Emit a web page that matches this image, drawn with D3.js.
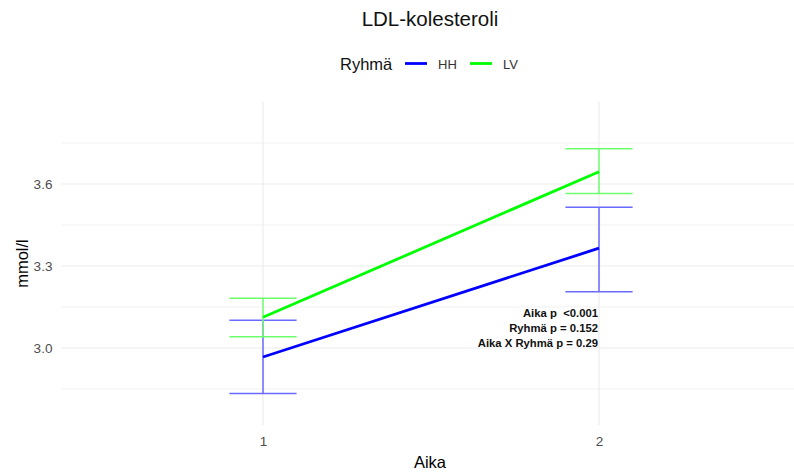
<!DOCTYPE html>
<html>
<head>
<meta charset="utf-8">
<script src="https://cdn.jsdelivr.net/npm/d3@7/dist/d3.min.js"></script>
<style>
  html, body { margin: 0; padding: 0; background: #fff; }
  svg { display: block; font-family: "Liberation Sans", Arial, sans-serif; }
</style>
</head>
<body>
<svg id="chart" width="794" height="472"></svg>
<script>
// Measurement times and groups
const aika = ["1", "2"];
const groups = ["HH", "LV"];

// Group means with confidence limits (mmol/l)
const hhMean  = [2.967, 3.365];
const hhLower = [2.833, 3.206];
const hhUpper = [3.101, 3.515];
const lvMean  = [3.112, 3.645];
const lvLower = [3.041, 3.565];
const lvUpper = [3.182, 3.729];

// Axis breaks
const yMajor = [3.0, 3.3, 3.6];
const yMinor = [2.85, 3.15, 3.45, 3.75];

// Test results shown in the panel
const pLabels = ["Aika p  <0.001", "Ryhmä p = 0.152", "Aika X Ryhmä p = 0.29"];

const colors = { HH: "#0000ff", LV: "#00ff00" };
const barColors = { HH: "#6a6aff", LV: "#6cff6c" };

const series = [
  { group: "HH", mean: hhMean, lower: hhLower, upper: hhUpper },
  { group: "LV", mean: lvMean, lower: lvLower, upper: lvUpper }
];

const svg = d3.select("#chart");
const W = 794, H = 472;
const panel = { left: 61.4, right: 800.6, top: 102, bottom: 425 };

const x = d3.scalePoint().domain(aika).range([panel.left, panel.right]).padding(0.6);
const y = d3.scaleLinear().domain([2.718, 3.9]).range([panel.bottom, panel.top]);
const halfW = x.step() * 0.1;

// Grid
const grid = svg.append("g");
grid.selectAll("line.minor").data(yMinor).join("line")
  .attr("x1", panel.left).attr("x2", W)
  .attr("y1", d => y(d)).attr("y2", d => y(d))
  .attr("stroke", "#f1f1f1").attr("stroke-width", 1);
grid.selectAll("line.major").data(yMajor).join("line")
  .attr("x1", panel.left).attr("x2", W)
  .attr("y1", d => y(d)).attr("y2", d => y(d))
  .attr("stroke", "#ebebeb").attr("stroke-width", 1.1);
grid.selectAll("line.vx").data(aika).join("line")
  .attr("x1", d => x(d)).attr("x2", d => x(d))
  .attr("y1", panel.top).attr("y2", panel.bottom)
  .attr("stroke", "#ebebeb").attr("stroke-width", 1.1);

// Axes (text only)
const yAxis = svg.append("g").attr("transform", `translate(${panel.left},0)`)
  .call(d3.axisLeft(y).tickValues(yMajor).tickFormat(d3.format(".1f")).tickSize(0).tickPadding(9));
yAxis.select(".domain").remove();
yAxis.selectAll("text").attr("fill", "#4d4d4d").style("font-size", "13.5px")
  .style("font-family", "'Liberation Sans', Arial, sans-serif");

const xAxis = svg.append("g").attr("transform", `translate(0,${panel.bottom})`)
  .call(d3.axisBottom(x).tickSize(0).tickPadding(11));
xAxis.select(".domain").remove();
xAxis.selectAll("text").attr("fill", "#4d4d4d").style("font-size", "13.5px")
  .style("font-family", "'Liberation Sans', Arial, sans-serif");

// Error bars
series.forEach(s => {
  const g = svg.append("g").attr("stroke", barColors[s.group]).attr("stroke-width", 1.5).attr("fill", "none");
  aika.forEach((a, i) => {
    const cx = x(a);
    g.append("line").attr("x1", cx).attr("x2", cx).attr("y1", y(s.lower[i])).attr("y2", y(s.upper[i]));
    g.append("line").attr("x1", cx - halfW).attr("x2", cx + halfW).attr("y1", y(s.lower[i])).attr("y2", y(s.lower[i]));
    g.append("line").attr("x1", cx - halfW).attr("x2", cx + halfW).attr("y1", y(s.upper[i])).attr("y2", y(s.upper[i]));
  });
});

// Mean lines
const line = d3.line().x((d, i) => x(aika[i])).y(d => y(d));
series.forEach(s => {
  svg.append("path").datum(s.mean).attr("d", line)
    .attr("fill", "none").attr("stroke", colors[s.group]).attr("stroke-width", 2.8);
});

// p-values
svg.append("g").selectAll("text").data(pLabels).join("text")
  .attr("x", x(aika[1]) - 1).attr("y", (d, i) => 317 + i * 15.2)
  .attr("text-anchor", "end").style("white-space", "pre")
  .attr("font-size", "11.3px").attr("font-weight", "bold").attr("fill", "#111")
  .text(d => d);

// Titles
const cxPanel = (panel.left + panel.right) / 2;
svg.append("text").attr("x", cxPanel - 1).attr("y", 26).attr("text-anchor", "middle")
  .attr("font-size", "20.5px").attr("fill", "#111").text("LDL-kolesteroli");
svg.append("text").attr("x", cxPanel - 1).attr("y", 468).attr("text-anchor", "middle")
  .attr("font-size", "16.5px").attr("fill", "#000").text("Aika");
svg.append("text").attr("transform", `translate(28,${(panel.top + panel.bottom) / 2}) rotate(-90)`)
  .attr("text-anchor", "middle").attr("font-size", "16.5px").attr("fill", "#000").text("mmol/l");

// Legend
const leg = svg.append("g");
leg.append("text").attr("x", 340).attr("y", 69.5).attr("font-size", "16.5px").attr("fill", "#111").text("Ryhmä");
const legItems = [{ g: groups[0], x0: 405 }, { g: groups[1], x0: 470 }];
legItems.forEach(it => {
  leg.append("line").attr("x1", it.x0).attr("x2", it.x0 + 22).attr("y1", 63.5).attr("y2", 63.5)
    .attr("stroke", colors[it.g]).attr("stroke-width", 2.8);
  leg.append("text").attr("x", it.x0 + 33).attr("y", 68.5).attr("font-size", "13px")
    .attr("fill", "#333").text(it.g);
});
</script>
</body>
</html>
